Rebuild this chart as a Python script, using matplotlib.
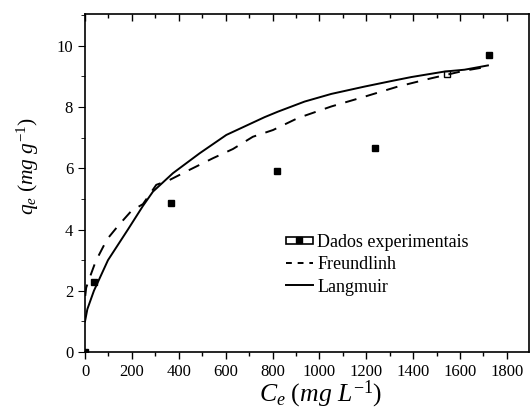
import matplotlib
matplotlib.use("Agg")
import matplotlib.pyplot as plt
from matplotlib.lines import Line2D
from matplotlib.patches import Rectangle
from matplotlib.legend_handler import HandlerTuple, HandlerPatch
from matplotlib.ticker import MultipleLocator

plt.rcParams['font.family'] = ['Liberation Serif', 'DejaVu Serif']
plt.rcParams['mathtext.fontset'] = 'custom'
plt.rcParams['mathtext.rm'] = 'Liberation Serif'
plt.rcParams['mathtext.it'] = 'Liberation Serif:italic'
plt.rcParams['mathtext.bf'] = 'Liberation Serif:bold'

# Experimental data
exp_c = [0, 40, 365, 818, 1236, 1723]
exp_q = [0.0, 2.28, 4.88, 5.9, 6.66, 9.7]
exp2_c = [1543]
exp2_q = [9.08]

# Langmuir fit
lang_c = [0, 10, 38, 98, 183, 247, 290, 375, 489, 603, 766, 823, 937, 1051,
          1193, 1307, 1392, 1534, 1619, 1719]
lang_q = [1.0, 1.4, 2.0, 3.0, 4.0, 4.77, 5.24, 5.84, 6.49, 7.09, 7.67, 7.85,
          8.18, 8.43, 8.67, 8.85, 8.98, 9.16, 9.22, 9.36]

# Freundlich fit
freu_c = [1, 5, 20, 46, 94, 141, 198, 247, 304, 361, 446, 546, 631, 716, 802,
          908, 1051, 1193, 1335, 1477, 1620, 1719]
freu_q = [1.83, 2.1, 2.43, 2.97, 3.68, 4.12, 4.61, 4.83, 5.46, 5.62, 5.95,
          6.33, 6.63, 7.03, 7.25, 7.64, 8.02, 8.34, 8.67, 8.94, 9.19, 9.32]

x_ticks = [0, 200, 400, 600, 800, 1000, 1200, 1400, 1600, 1800]
y_ticks = [0, 2, 4, 6, 8, 10]

fig = plt.figure(figsize=(5.3, 4.12), dpi=100)
ax = fig.add_axes([0.1604, 0.1456, 0.8376, 0.8197])

ax.plot(exp2_c, exp2_q, ls='none', marker='s', ms=5, mfc='white', mec='black',
        mew=1, zorder=2)
ax.plot(exp_c, exp_q, ls='none', marker='s', ms=5, color='black', zorder=4)
ax.plot(freu_c, freu_q, ls=(0, (6, 5)), color='black', lw=1.4, zorder=3)
ax.plot(lang_c, lang_q, ls='-', color='black', lw=1.4, zorder=3)

ax.set_xlim(0, 1894)
ax.set_ylim(0, 11.03)
ax.set_xticks(x_ticks)
ax.set_yticks(y_ticks)
ax.xaxis.set_minor_locator(MultipleLocator(100))
ax.yaxis.set_minor_locator(MultipleLocator(1))
ax.tick_params(axis='x', which='both', direction='out', top=True, labelsize=12,
               width=1)
ax.tick_params(axis='x', which='major', length=5)
ax.tick_params(axis='x', which='minor', length=3)
ax.tick_params(axis='y', which='major', direction='out', length=5, labelsize=12,
               right=False)
ax.tick_params(axis='y', which='minor', direction='out', length=3, right=False)
for t in ax.xaxis.get_major_ticks() + ax.xaxis.get_minor_ticks():
    t.tick2line.set_marker(3)  # inward at top
for sp in ax.spines.values():
    sp.set_linewidth(1.2)

ax.set_xlabel(r'$C_e\ (mg\ L^{-1})$', fontsize=18.5)
ax.xaxis.set_label_coords(0.53, -0.08, transform=ax.transAxes)
ax.xaxis.label.set_va('top')
ax.set_ylabel(r'$q_e\ (mg\ g^{-1})$', fontsize=15.5)
ax.yaxis.set_label_coords(-0.1, 0.55)


def thin_rect(legend, orig_handle, xdescent, ydescent, width, height, fontsize):
    return Rectangle((-xdescent, -ydescent + height * 0.2), width, height * 0.6)


data_handle = (Rectangle((0, 0), 1, 1, facecolor='white', edgecolor='black', lw=1.2),
               Line2D([], [], ls='none', marker='s', ms=4, color='black'))
freu_handle = Line2D([], [], ls=(0, (3, 3)), color='black', lw=1.4)
lang_handle = Line2D([], [], ls='-', color='black', lw=1.4)
leg = ax.legend([data_handle, freu_handle, lang_handle],
                ['Dados experimentais', 'Freundlinh', 'Langmuir'],
                handler_map={tuple: HandlerTuple(ndivide=1, pad=0),
                             Rectangle: HandlerPatch(patch_func=thin_rect)},
                loc='upper left', bbox_to_anchor=(0.452, 0.35), frameon=False,
                fontsize=13, handlelength=1.5, handletextpad=0.25, labelspacing=0.3,
                borderaxespad=0, borderpad=0)

fig.savefig('out.png', dpi=100)
